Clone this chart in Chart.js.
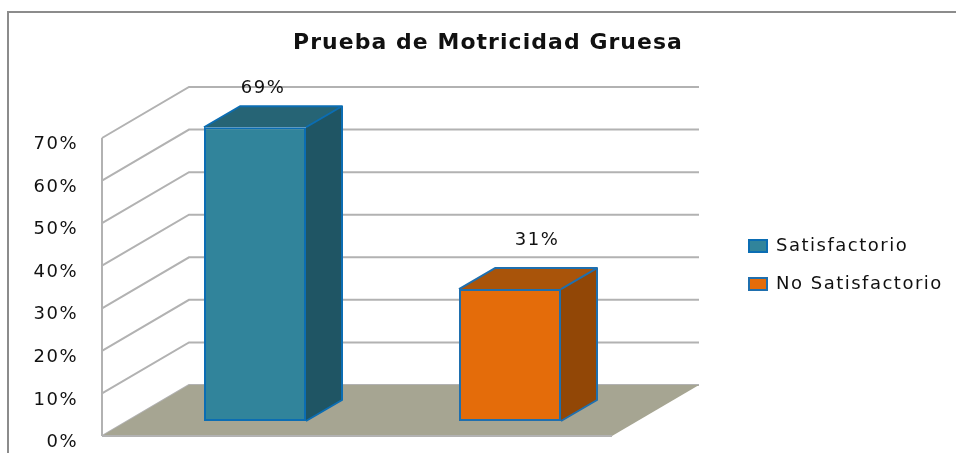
<!DOCTYPE html>
<html>
<head>
<meta charset="utf-8">
<style>html,body{margin:0;padding:0;background:#fff}canvas{display:block}</style>
<script src="https://cdn.jsdelivr.net/npm/chart.js@4"></script>
</head>
<body>
<canvas id="c" width="956" height="453"></canvas>
<script>
const categories = [""];
const chartTitle = "Prueba de Motricidad Gruesa";
const satisfactorio = [69];
const noSatisfactorio = [31];
const tickStep = 10;
const tickMax = 70;

const INK = "#111111";
const FONT = "'DejaVu Sans', sans-serif";
const FRONT_DEPTH = { dx: -25.5, dy: 15 };
const BACK_DEPTH = { dx: 61.5, dy: -36 };
const BAR_DEPTH = { dx: 36, dy: -21 };
const TEXT_SPACING = "1.5px";
const TITLE_SPACING = "1.07px";
const faces = [
  { top: "#266475", side: "#1F5564", label: { dx: 8, dy: -39 } },
  { top: "#A9540A", side: "#924706", label: { dx: 27, dy: -49 } }
];

const scene = {
  id: "scene",
  beforeUpdate(chart) { chart.ctx.letterSpacing = TEXT_SPACING; },
  afterLayout(chart) {
    const t = chart.titleBlock;
    t.left = 293; t.right = 683; t.width = 390; t.top = 32; t.bottom = 54;
    if (!t._spaced) {
      t._spaced = true;
      const drawTitle = t.draw;
      t.draw = function (...args) {
        chart.ctx.letterSpacing = TITLE_SPACING;
        drawTitle.apply(this, args);
        chart.ctx.letterSpacing = TEXT_SPACING;
      };
    }
    const l = chart.legend;
    const h = l.height;
    l.left = 729; l.right = 729 + l.width; l.top = 217; l.bottom = 217 + h;
  },
  beforeDatasetsDraw(chart) {
    const { ctx, scales: { y }, chartArea: a } = chart;
    const fx = a.left + FRONT_DEPTH.dx, bx = a.left + BACK_DEPTH.dx, rx = a.right + BACK_DEPTH.dx;
    const fr = a.right + FRONT_DEPTH.dx;
    ctx.save();
    // frame
    ctx.strokeStyle = "#8C8C8C"; ctx.lineWidth = 2;
    ctx.beginPath(); ctx.moveTo(8, 453); ctx.lineTo(8, 12); ctx.lineTo(956, 12); ctx.stroke();
    // walls and grid
    ctx.strokeStyle = "#B2B2B2"; ctx.lineWidth = 2;
    y.ticks.forEach(t => {
      const p = y.getPixelForValue(t.value);
      ctx.beginPath();
      ctx.moveTo(fx, p + FRONT_DEPTH.dy);
      ctx.lineTo(bx, p + BACK_DEPTH.dy);
      ctx.lineTo(rx, p + BACK_DEPTH.dy);
      ctx.stroke();
    });
    const p0 = y.getPixelForValue(0), pT = y.getPixelForValue(tickMax);
    ctx.beginPath(); ctx.moveTo(fx, pT + FRONT_DEPTH.dy); ctx.lineTo(fx, p0 + FRONT_DEPTH.dy); ctx.stroke();
    // floor
    ctx.fillStyle = "#A6A592";
    ctx.beginPath();
    ctx.moveTo(fx, p0 + FRONT_DEPTH.dy);
    ctx.lineTo(bx, p0 + BACK_DEPTH.dy);
    ctx.lineTo(rx, p0 + BACK_DEPTH.dy);
    ctx.lineTo(fr, p0 + FRONT_DEPTH.dy);
    ctx.closePath(); ctx.fill();
    ctx.beginPath(); ctx.moveTo(fx, p0 + FRONT_DEPTH.dy); ctx.lineTo(fr, p0 + FRONT_DEPTH.dy); ctx.stroke();
    // bar depth faces
    chart.data.datasets.forEach((ds, i) => {
      const bar = chart.getDatasetMeta(i).data[0];
      const L = bar.x - bar.width / 2, R = bar.x + bar.width / 2, T = bar.y, B = bar.base;
      const d = BAR_DEPTH;
      ctx.strokeStyle = ds.borderColor; ctx.lineWidth = 2; ctx.lineJoin = "round";
      ctx.fillStyle = faces[i].side;
      ctx.beginPath();
      ctx.moveTo(R, T); ctx.lineTo(R + d.dx, T + d.dy); ctx.lineTo(R + d.dx, B + d.dy); ctx.lineTo(R, B);
      ctx.closePath(); ctx.fill();
      ctx.fillStyle = faces[i].top;
      ctx.beginPath();
      ctx.moveTo(L, T); ctx.lineTo(L + d.dx, T + d.dy); ctx.lineTo(R + d.dx, T + d.dy); ctx.lineTo(R, T);
      ctx.closePath(); ctx.fill();
      ctx.beginPath();
      ctx.moveTo(L, T); ctx.lineTo(L + d.dx, T + d.dy); ctx.lineTo(R + d.dx, T + d.dy);
      ctx.lineTo(R + d.dx, B + d.dy); ctx.lineTo(R, B);
      ctx.moveTo(R, T); ctx.lineTo(R + d.dx, T + d.dy);
      ctx.stroke();
    });
    ctx.restore();
  },
  afterDatasetsDraw(chart) {
    const { ctx } = chart;
    ctx.save();
    ctx.fillStyle = INK;
    ctx.font = "18px " + FONT;
    ctx.textAlign = "center"; ctx.textBaseline = "middle";
    chart.data.datasets.forEach((ds, i) => {
      const bar = chart.getDatasetMeta(i).data[0];
      const o = faces[i].label;
      ctx.fillText(ds.data[0] + "%", bar.x + o.dx, bar.y + o.dy);
    });
    ctx.restore();
  }
};

new Chart(document.getElementById("c"), {
  type: "bar",
  data: {
    labels: categories,
    datasets: [
      { label: "Satisfactorio", data: satisfactorio, backgroundColor: "#31849B", borderColor: "#0B6DB3", borderWidth: 2, borderSkipped: false },
      { label: "No Satisfactorio", data: noSatisfactorio, backgroundColor: "#E46C0A", borderColor: "#1F6FAE", borderWidth: 2, borderSkipped: false }
    ]
  },
  options: {
    responsive: false,
    animation: false,
    events: [],
    layout: { padding: { top: 101, right: 318.5, bottom: 32, left: 0 } },
    datasets: { bar: { categoryPercentage: 1, barPercentage: 0.4 } },
    scales: {
      x: { display: false },
      y: {
        min: 0, max: tickMax,
        afterFit(s) { s.width = 127.5; s.paddingTop = 0; s.paddingBottom = 0; },
        grid: { display: false, drawTicks: false },
        border: { display: false },
        ticks: {
          stepSize: tickStep, padding: 49.5, labelOffset: 21.5,
          color: INK, font: { family: FONT, size: 18 },
          callback: v => v + "%"
        }
      }
    },
    plugins: {
      title: {
        display: true, text: chartTitle, color: INK, align: "center",
        padding: 0, font: { family: FONT, size: 22, weight: "bold", lineHeight: 1 }
      },
      legend: {
        display: true, position: "chartArea", align: "start",
        labels: { boxWidth: 18, boxHeight: 12, padding: 20, color: INK, font: { family: FONT, size: 18 } }
      },
      tooltip: { enabled: false }
    }
  },
  plugins: [scene]
});
</script>
</body>
</html>
